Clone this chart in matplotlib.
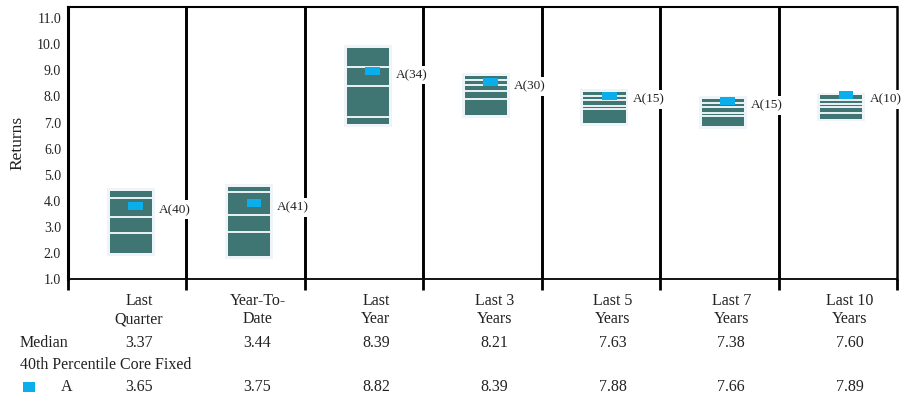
import matplotlib
matplotlib.use("Agg")
import matplotlib.pyplot as plt
from matplotlib.patches import Rectangle
from matplotlib.transforms import blended_transform_factory
import numpy as np

plt.rcParams["font.family"] = ["Liberation Serif", "DejaVu Serif"]

# ---- data -------------------------------------------------------------
categories = ["Last\nQuarter", "Year-To-\nDate", "Last\nYear", "Last 3\nYears",
              "Last 5\nYears", "Last 7\nYears", "Last 10\nYears"]
median = [3.37, 3.44, 8.39, 8.21, 7.63, 7.38, 7.60]
a_value = [3.65, 3.75, 8.82, 8.39, 7.88, 7.66, 7.89]
a_rank = [40, 41, 34, 30, 15, 15, 10]
box_top = [4.38, 4.52, 9.86, 8.80, 8.17, 7.92, 8.04]
box_bottom = [2.00, 1.87, 6.93, 7.28, 6.98, 6.88, 7.15]
band_lines = [[4.10, 2.76], [4.33, 2.82], [9.12, 7.21], [8.64, 8.45, 7.90],
              [8.02, 7.86, 7.52], [7.75, 7.58, 7.24], [7.87, 7.72, 7.37]]
y_ticks = [1.0, 2.0, 3.0, 4.0, 5.0, 6.0, 7.0, 8.0, 9.0, 10.0, 11.0]
row_median_label = "Median"
group_label = "40th Percentile Core Fixed"
series_label = "A"

# ---- style ------------------------------------------------------------
teal = "#3F7573"
halo = "#EEF4F7"
line_white = "#EAF2F4"
blue = "#0AAEEA"
box_w = 0.355
box_shift = 0.03
mark_w = 0.125
mark_h = 0.30
mark_shift = 0.04
text_shift = 0.10
halo_dx = 0.025
halo_dy = 0.11

W, H = 906, 397
fig = plt.figure(figsize=(W / 100, H / 100), dpi=100)
ax = fig.add_axes([68 / W, 1 - 279 / H, (897 - 68) / W, (279 - 7) / H])

n = len(categories)
ax.set_xlim(0, n)
ax.set_ylim(1.0, 11.43)

# column dividers
for i in range(1, n):
    ax.axvline(i, color="black", lw=2.1, zorder=1)

for i in range(n):
    cx = i + 0.5 + box_shift
    left = cx - box_w / 2
    height = box_top[i] - box_bottom[i]
    # faint halo behind the range box
    ax.add_patch(Rectangle((left - halo_dx, box_bottom[i] - halo_dy),
                           box_w + 2 * halo_dx, height + 2 * halo_dy,
                           facecolor=halo, edgecolor="none", zorder=1.5))
    ax.add_patch(Rectangle((left, box_bottom[i]), box_w, height,
                           facecolor=teal, edgecolor="none", zorder=2))
    for v in band_lines[i] + [median[i]]:
        ax.plot([left, left + box_w], [v, v], color=line_white,
                lw=1.4, zorder=3, solid_capstyle="butt")
    # marker for A
    ax.add_patch(Rectangle((cx + mark_shift - mark_w / 2, a_value[i]), mark_w,
                           mark_h, facecolor=blue, edgecolor="none", zorder=4))
    ax.text(left + box_w + 0.06, a_value[i], f"A({a_rank[i]})",
            ha="left", va="center", fontsize=9.5, color="#222222", zorder=5,
            bbox=dict(facecolor="white", edgecolor="none", pad=2.5))

# spines
ax.spines["left"].set_linewidth(2.2)
ax.spines["top"].set_linewidth(1.5)
ax.spines["right"].set_linewidth(1.8)
ax.spines["bottom"].set_linewidth(1.3)
for s in ax.spines.values():
    s.set_color("black")

# y axis
ax.set_yticks(y_ticks)
ax.set_yticklabels([f"{v:.1f}" for v in y_ticks], fontsize=10, color="#222222")
ax.tick_params(axis="y", length=0, pad=5)
ax.set_ylabel("Returns", fontsize=12.5, color="#222222", labelpad=8)

# x axis: divider ticks below, category labels between them
ax.set_xticks(np.arange(n + 1))
ax.set_xticklabels([])
ax.tick_params(axis="x", which="major", length=8, width=2.0, color="black")
ax.set_xticks(np.arange(n) + 0.5 + text_shift, minor=True)
ax.set_xticklabels(categories, minor=True, fontsize=11.5, color="#222222",
                   linespacing=1.2)
ax.tick_params(axis="x", which="minor", length=0, pad=10)

# summary rows under the chart
tr = blended_transform_factory(ax.transData, fig.transFigure)
y_med = 1 - 342.7 / H
y_grp = 1 - 365 / H
y_a = 1 - 386.7 / H
fig.text(20 / W, y_med, row_median_label, ha="left", va="center",
         fontsize=11.5, color="#222222")
fig.text(20 / W, y_grp, group_label, ha="left", va="center",
         fontsize=11.5, color="#222222")
fig.patches.append(Rectangle((22.7 / W, 1 - 392 / H), 12 / W, 10 / H,
                             facecolor=blue, edgecolor="none",
                             transform=fig.transFigure, figure=fig))
fig.text(67 / W, y_a, series_label, ha="center", va="center",
         fontsize=11.5, color="#222222")
for i in range(n):
    x = i + 0.5 + text_shift
    ax.text(x, y_med, f"{median[i]:.2f}", transform=tr, ha="center",
            va="center", fontsize=11.5, color="#222222", clip_on=False)
    ax.text(x, y_a, f"{a_value[i]:.2f}", transform=tr, ha="center",
            va="center", fontsize=11.5, color="#222222", clip_on=False)

fig.savefig("out.png", dpi=100, facecolor="white")
